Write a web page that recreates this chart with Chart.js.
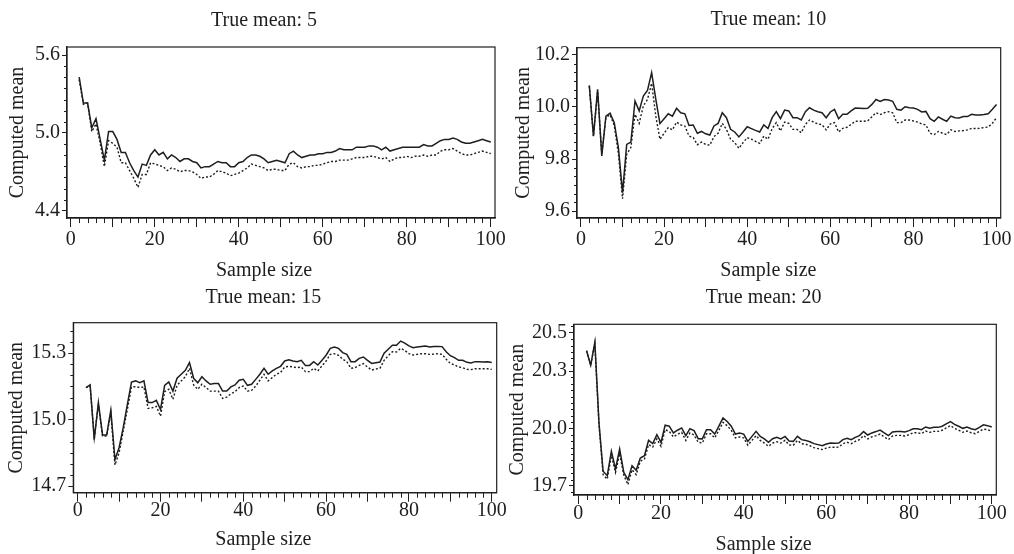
<!DOCTYPE html>
<html lang="en">
<head>
    <meta charset="UTF-8">
    <title>Computed mean by sample size</title>
    <script src="https://cdn.jsdelivr.net/npm/chart.js"></script>
    <style>
        html, body { margin: 0; padding: 0; background: #fff; overflow: hidden; }
        body { width: 1014px; height: 554px; position: relative; }
        .panel { position: absolute; }
    </style>
</head>
<body>
    <div class="panel" id="p5"><canvas id="c5"></canvas></div>
    <div class="panel" id="p10"><canvas id="c10"></canvas></div>
    <div class="panel" id="p15"><canvas id="c15"></canvas></div>
    <div class="panel" id="p20"><canvas id="c20"></canvas></div>

    <script>
        // sample sizes on the x axis
        const sampleSizes = [2,3,4,5,6,7,8,9,10,11,12,13,14,15,16,17,18,19,20,21,22,23,24,25,26,27,28,29,30,31,
            32,33,34,35,36,37,38,39,40,41,42,43,44,45,46,47,48,49,50,51,52,53,54,55,56,57,58,59,60,61,
            62,63,64,65,66,67,68,69,70,71,72,73,74,75,76,77,78,79,80,81,82,83,84,85,86,87,88,89,90,91,
            92,93,94,95,96,97,98,99,100];

        // true mean 5
        const solid5 = [5.43,5.23,5.23,5.04,5.11,4.95,4.79,5.01,5.01,4.95,
            4.85,4.85,4.77,4.71,4.66,4.76,4.75,4.83,4.87,4.83,
            4.85,4.80,4.83,4.81,4.78,4.80,4.80,4.78,4.77,4.73,
            4.74,4.74,4.76,4.78,4.77,4.77,4.74,4.74,4.77,4.78,
            4.81,4.83,4.83,4.82,4.80,4.77,4.78,4.79,4.78,4.77,
            4.84,4.86,4.83,4.81,4.82,4.83,4.83,4.84,4.84,4.85,
            4.85,4.86,4.88,4.87,4.87,4.87,4.89,4.89,4.89,4.90,
            4.90,4.89,4.87,4.89,4.86,4.87,4.88,4.89,4.89,4.89,
            4.89,4.89,4.91,4.90,4.90,4.92,4.94,4.95,4.95,4.96,
            4.95,4.93,4.92,4.92,4.93,4.94,4.95,4.94,4.93];
        const dotted5 = [5.41,5.22,5.23,5.01,5.07,4.92,4.74,4.94,4.92,4.89,
            4.77,4.77,4.71,4.65,4.58,4.68,4.68,4.77,4.76,4.75,
            4.74,4.71,4.73,4.72,4.70,4.71,4.71,4.70,4.68,4.65,
            4.66,4.66,4.68,4.71,4.70,4.69,4.67,4.68,4.69,4.71,
            4.73,4.76,4.75,4.74,4.73,4.71,4.72,4.72,4.71,4.71,
            4.76,4.77,4.74,4.73,4.74,4.74,4.75,4.75,4.76,4.77,
            4.78,4.78,4.79,4.79,4.79,4.80,4.81,4.81,4.81,4.82,
            4.82,4.81,4.80,4.81,4.78,4.80,4.81,4.81,4.82,4.81,
            4.82,4.82,4.83,4.82,4.83,4.83,4.86,4.87,4.87,4.88,
            4.86,4.84,4.83,4.83,4.84,4.85,4.86,4.85,4.84];

        // true mean 10
        const solid10 = [10.083,9.888,10.068,9.812,9.965,9.976,9.940,9.844,9.671,9.856,
            9.865,10.023,9.985,10.042,10.064,10.132,10.030,9.936,9.955,9.974,
            9.965,9.995,9.978,9.974,9.929,9.931,9.899,9.906,9.897,9.892,
            9.927,9.937,9.978,9.959,9.914,9.904,9.885,9.904,9.924,9.917,
            9.910,9.904,9.931,9.917,9.959,9.982,9.955,9.988,9.985,9.959,
            9.959,9.950,9.982,9.997,9.988,9.982,9.978,9.959,9.981,9.991,
            9.955,9.972,9.972,9.985,9.996,9.995,9.994,9.995,10.010,10.029,
            10.021,10.029,10.027,10.022,9.991,9.988,10.001,9.997,9.996,9.991,
            9.981,9.983,9.955,9.945,9.962,9.953,9.945,9.965,9.959,9.958,
            9.963,9.963,9.972,9.969,9.969,9.971,9.974,9.991,10.010];
        const dotted10 = [10.080,9.888,10.060,9.820,9.960,9.970,9.930,9.820,9.647,9.818,
            9.844,9.972,9.937,10.004,10.029,10.091,9.965,9.876,9.899,9.921,
            9.912,9.942,9.931,9.927,9.888,9.883,9.855,9.865,9.856,9.853,
            9.886,9.899,9.937,9.914,9.876,9.863,9.841,9.863,9.882,9.876,
            9.868,9.860,9.888,9.876,9.917,9.940,9.908,9.942,9.937,9.914,
            9.914,9.901,9.933,9.950,9.942,9.935,9.932,9.912,9.935,9.940,
            9.904,9.918,9.922,9.933,9.945,9.945,9.945,9.947,9.962,9.978,
            9.971,9.978,9.982,9.978,9.940,9.940,9.950,9.950,9.946,9.942,
            9.935,9.931,9.899,9.894,9.906,9.899,9.894,9.912,9.906,9.908,
            9.909,9.912,9.918,9.917,9.918,9.921,9.923,9.937,9.959];

        // true mean 15
        const solid15 = [15.145,15.157,14.911,15.077,14.931,14.931,15.042,14.820,14.873,14.964,
            15.069,15.170,15.175,15.167,15.175,15.077,15.077,15.087,15.046,15.155,
            15.170,15.129,15.187,15.205,15.223,15.258,15.187,15.167,15.194,15.175,
            15.160,15.163,15.163,15.129,15.129,15.148,15.157,15.178,15.182,15.155,
            15.160,15.182,15.205,15.232,15.205,15.220,15.232,15.241,15.265,15.270,
            15.265,15.262,15.268,15.245,15.245,15.262,15.247,15.268,15.291,15.322,
            15.328,15.322,15.303,15.295,15.262,15.262,15.277,15.283,15.268,15.254,
            15.257,15.260,15.300,15.318,15.336,15.336,15.355,15.346,15.333,15.325,
            15.328,15.331,15.333,15.328,15.330,15.331,15.330,15.307,15.289,15.280,
            15.268,15.268,15.259,15.256,15.262,15.262,15.260,15.262,15.258];
        const dotted15 = [15.145,15.152,14.918,15.069,14.926,14.926,15.031,14.795,14.850,14.949,
            15.046,15.148,15.149,15.145,15.148,15.051,15.054,15.060,15.016,15.126,
            15.137,15.092,15.155,15.175,15.194,15.232,15.157,15.137,15.160,15.145,
            15.129,15.129,15.129,15.096,15.102,15.117,15.126,15.145,15.152,15.129,
            15.132,15.152,15.178,15.205,15.175,15.190,15.205,15.213,15.238,15.241,
            15.238,15.235,15.238,15.217,15.217,15.232,15.220,15.243,15.265,15.295,
            15.298,15.291,15.273,15.262,15.232,15.235,15.245,15.253,15.238,15.224,
            15.229,15.232,15.268,15.289,15.307,15.306,15.322,15.313,15.298,15.292,
            15.295,15.298,15.298,15.295,15.296,15.298,15.295,15.273,15.254,15.247,
            15.238,15.235,15.227,15.226,15.230,15.230,15.230,15.230,15.227];

        // true mean 20
        const solid20 = [20.406,20.330,20.450,20.030,19.777,19.754,19.881,19.789,19.893,19.771,
            19.733,19.806,19.782,19.846,19.858,19.938,19.921,19.968,19.928,20.017,
            20.012,19.977,19.991,20.003,19.963,19.999,19.989,19.947,19.946,19.994,
            19.994,19.971,20.012,20.055,20.037,20.012,19.971,19.977,19.971,19.933,
            19.959,19.985,19.959,19.946,19.928,19.947,19.954,19.946,19.959,19.935,
            19.933,19.959,19.942,19.938,19.931,19.921,19.916,19.910,19.919,19.924,
            19.923,19.924,19.942,19.949,19.942,19.954,19.963,19.984,19.966,19.977,
            19.984,19.992,19.977,19.963,19.982,19.985,19.985,19.982,19.989,19.999,
            19.999,19.994,20.008,20.001,20.006,20.006,20.012,20.024,20.036,20.022,
            20.012,20.001,20.008,19.999,19.994,20.006,20.019,20.015,20.008];
        const dotted20 = [20.406,20.330,20.445,20.020,19.759,19.736,19.858,19.771,19.869,19.757,
            19.707,19.785,19.759,19.829,19.841,19.916,19.903,19.946,19.907,19.994,
            19.985,19.956,19.970,19.980,19.938,19.977,19.966,19.928,19.924,19.973,
            19.973,19.951,19.991,20.032,20.015,19.991,19.951,19.956,19.951,19.913,
            19.938,19.963,19.938,19.924,19.907,19.924,19.931,19.924,19.938,19.914,
            19.913,19.938,19.921,19.918,19.910,19.900,19.895,19.890,19.898,19.903,
            19.902,19.903,19.921,19.928,19.921,19.933,19.942,19.963,19.946,19.956,
            19.963,19.971,19.956,19.942,19.961,19.964,19.964,19.961,19.968,19.978,
            19.978,19.973,19.987,19.980,19.985,19.985,19.991,20.003,20.015,20.001,
            19.991,19.980,19.987,19.978,19.973,19.985,19.997,19.994,19.985];

        // tick values
        const xTickValues = [0, 10, 20, 30, 40, 50, 60, 70, 80, 90, 100];
        const xTickLabels = [0, 20, 40, 60, 80, 100];
        const yTicks5 = [4.4, 5.0, 5.6];
        const yTicks10 = [9.6, 9.8, 10.0, 10.2];
        const yTicks15 = [14.7, 15.0, 15.3];
        const yTicks20 = [19.7, 20.0, 20.3, 20.5];

        const ink = '#1e1e1e';
        const serif = { family: '"Liberation Serif", "Times New Roman", serif', size: 20, weight: 'normal', lineHeight: 1.2 };

        // minor ticks and the closed frame round the plot area
        const axisExtras = {
            id: 'axisExtras',
            afterDraw(chart, args, o) {
                const {ctx, chartArea: a, scales: {x, y}} = chart;
                ctx.save();
                ctx.strokeStyle = ink;
                ctx.lineWidth = 1;
                ctx.beginPath();
                for (let i = Math.ceil(x.min / 2); i * 2 <= x.max; i++) {
                    if ((i * 2) % 10 === 0) continue;
                    const px = Math.round(x.getPixelForValue(i * 2)) + 0.5;
                    ctx.moveTo(px, a.bottom);
                    ctx.lineTo(px, a.bottom + o.xLen);
                }
                // minor steps counted from the lowest labelled tick
                const base = o.majors[0];
                for (let i = Math.ceil((y.min - base) / o.yStep - 1e-6); base + i * o.yStep <= y.max + 1e-9; i++) {
                    const v = base + i * o.yStep;
                    if (o.majors.some(m => Math.abs(m - v) < 1e-6)) continue;
                    const py = Math.round(y.getPixelForValue(v)) + 0.5;
                    ctx.moveTo(a.left, py);
                    ctx.lineTo(a.left - o.yLen, py);
                }
                ctx.stroke();
                ctx.lineWidth = 1.2;
                ctx.strokeRect(a.left, a.top, a.right - a.left, a.bottom - a.top);
                ctx.restore();
            }
        };

        function makePanel(p) {
            const g = p.geom;
            // g.scaleLeft: left edge of the y axis box, which also sets where the titles centre
            const padL = g.scaleLeft - g.cl;
            const padR = g.cl + g.W - g.right;
            const H = g.subY + 12 - g.ct;
            const yW = g.left - g.scaleLeft;
            const xH = g.subY - 12 - g.bottom;
            const titleTop = g.titleY - 12 - g.ct;
            const titleBottom = g.top - g.ct - 24 - titleTop;

            const box = document.getElementById(p.box);
            box.style.left = g.cl + 'px';
            box.style.top = g.ct + 'px';
            box.style.width = g.W + 'px';
            box.style.height = H + 'px';

            const pairs = vals => sampleSizes.map((n, i) => ({x: n, y: vals[i]}));

            new Chart(document.getElementById(p.canvas), {
                type: 'line',
                data: {
                    datasets: [{
                        label: 'solid',
                        data: pairs(p.solid),
                        borderColor: ink,
                        borderWidth: 1.5,
                        pointRadius: 0,
                        tension: 0
                    }, {
                        label: 'dotted',
                        data: pairs(p.dotted),
                        borderColor: ink,
                        borderWidth: 1.4,
                        borderDash: [2, 2],
                        pointRadius: 0,
                        tension: 0
                    }]
                },
                options: {
                    responsive: true,
                    maintainAspectRatio: false,
                    animation: false,
                    layout: { padding: { left: padL, right: padR, top: 0, bottom: 0 } },
                    plugins: {
                        legend: { display: false },
                        tooltip: { enabled: false },
                        title: {
                            display: true,
                            text: p.title,
                            color: ink,
                            font: serif,
                            padding: { top: titleTop, bottom: titleBottom }
                        },
                        subtitle: {
                            display: true,
                            position: 'bottom',
                            text: 'Sample size',
                            color: ink,
                            font: serif,
                            padding: 0
                        },
                        axisExtras: { xLen: 5, yLen: 3, yStep: p.yStep, majors: p.yTicks }
                    },
                    scales: {
                        x: {
                            type: 'linear',
                            min: g.xMin,
                            max: g.xMax,
                            afterFit: s => { s.height = xH; },
                            afterBuildTicks: s => { s.ticks = xTickValues.map(v => ({value: v})); },
                            ticks: {
                                autoSkip: false,
                                maxRotation: 0,
                                padding: g.xPad,
                                color: ink,
                                font: serif,
                                callback: v => xTickLabels.includes(v) ? String(v) : ''
                            },
                            grid: { drawOnChartArea: false, tickLength: 9, color: ink },
                            border: { color: ink, width: 1.2 }
                        },
                        y: {
                            min: g.yMin,
                            max: g.yMax,
                            afterFit: s => { s.width = yW; },
                            afterBuildTicks: s => { s.ticks = p.yTicks.map(v => ({value: v})); },
                            ticks: {
                                padding: 2,
                                color: ink,
                                font: serif,
                                callback: v => v.toFixed(1)
                            },
                            grid: { drawOnChartArea: false, tickLength: 5, color: ink },
                            border: { color: ink, width: 1.2 },
                            title: {
                                display: true,
                                text: 'Computed mean',
                                color: ink,
                                font: serif,
                                padding: { top: g.yTitleX - g.scaleLeft - 12, bottom: 0 }
                            }
                        }
                    }
                },
                plugins: [axisExtras]
            });
        }

        makePanel({
            box: 'p5', canvas: 'c5', title: 'True mean: 5',
            solid: solid5, dotted: dotted5, yTicks: yTicks5, yStep: 0.6 / 7,
            geom: { cl: 0, ct: 0, W: 515, left: 67, right: 495, top: 47, bottom: 218,
                titleY: 20.25, subY: 270.25, scaleLeft: 33, yTitleX: 17.25, xPad: 1,
                xMin: -0.9, xMax: 101, yMin: 4.344, yMax: 5.662 }
        });
        makePanel({
            box: 'p10', canvas: 'c10', title: 'True mean: 10',
            solid: solid10, dotted: dotted10, yTicks: yTicks10, yStep: 0.2 / 6,
            geom: { cl: 505, ct: 0, W: 509, left: 577, right: 1000.7, top: 47.7, bottom: 218,
                titleY: 19.25, subY: 270.25, scaleLeft: 536, yTitleX: 523.3, xPad: 1,
                xMin: -0.96, xMax: 101, yMin: 9.573, yMax: 10.228 }
        });
        makePanel({
            box: 'p15', canvas: 'c15', title: 'True mean: 15',
            solid: solid15, dotted: dotted15, yTicks: yTicks15, yStep: 0.05,
            geom: { cl: 0, ct: 278, W: 515, left: 73.3, right: 496.7, top: 322.7, bottom: 492.7,
                titleY: 297.6, subY: 540, scaleLeft: 30, yTitleX: 17, xPad: -3,
                xMin: -1.06, xMax: 101.2, yMin: 14.67, yMax: 15.438 }
        });
        makePanel({
            box: 'p20', canvas: 'c20', title: 'True mean: 20',
            solid: solid20, dotted: dotted20, yTicks: yTicks20, yStep: 0.1 / 3,
            geom: { cl: 505, ct: 278, W: 509, left: 574, right: 996.3, top: 324.3, bottom: 495,
                titleY: 297.6, subY: 545, scaleLeft: 531, yTitleX: 517.5, xPad: -2.5,
                xMin: -1.04, xMax: 101.1, yMin: 19.653, yMax: 20.544 }
        });
    </script>
</body>
</html>
